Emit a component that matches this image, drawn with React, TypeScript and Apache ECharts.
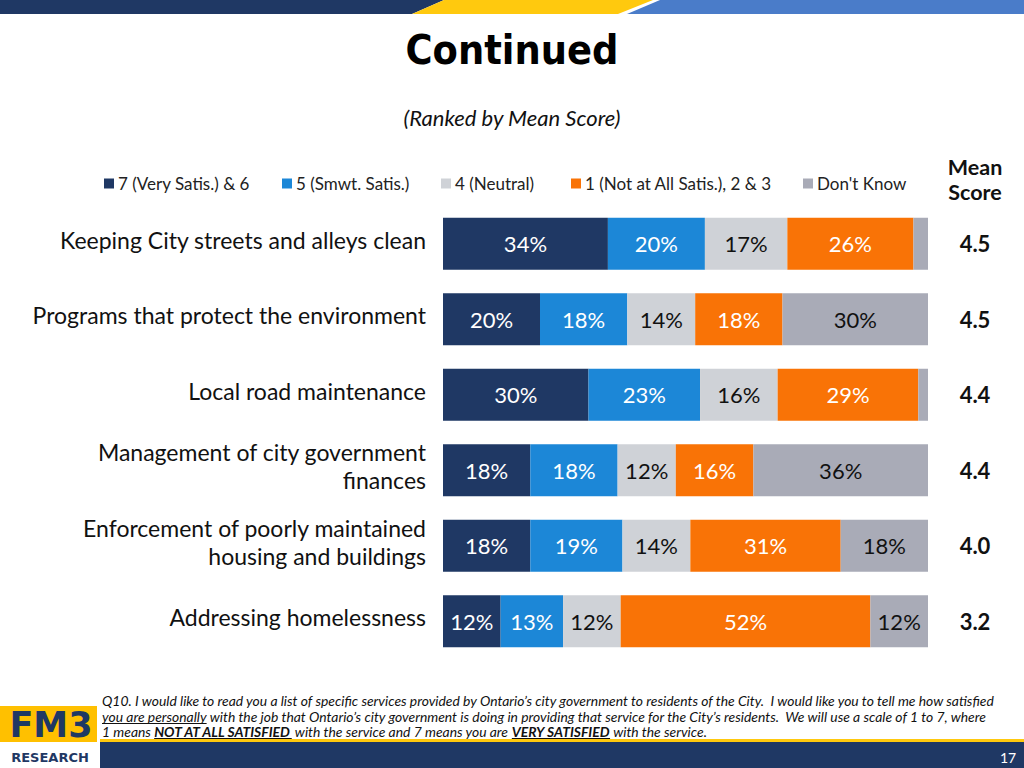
import React, { useEffect, useRef } from "react";
import * as echarts from "echarts";

const categories = [
  "Keeping City streets and alleys clean",
  "Programs that protect the environment",
  "Local road maintenance",
  "Management of city government\nfinances",
  "Enforcement of poorly maintained\nhousing and buildings",
  "Addressing homelessness",
];
const meanScores = ["4.5", "4.5", "4.4", "4.4", "4.0", "3.2"];
const seriesNames = [
  "7 (Very Satis.) & 6",
  "5 (Smwt. Satis.)",
  "4 (Neutral)",
  "1 (Not at All Satis.), 2 & 3",
  "Don't Know",
];
const verySatis = [34, 20, 30, 18, 18, 12];
const smwtSatis = [20, 18, 23, 18, 19, 13];
const neutral = [17, 14, 16, 12, 14, 12];
const notSatis = [26, 18, 29, 16, 31, 52];
const dontKnow = [3, 30, 2, 36, 18, 12];

const seriesValues = [verySatis, smwtSatis, neutral, notSatis, dontKnow];
const colors = ["#1F3864", "#1C87D7", "#CFD2D7", "#F97306", "#A9ABB7"];
const labelColors = ["#FFFFFF", "#FFFFFF", "#111111", "#FFFFFF", "#111111"];
const legendLefts = [104, 282, 441, 571, 803];

const FONT = "Lato, 'Open Sans', sans-serif";

const footLine1 =
  "Q10. I would like to read you a list of specific services provided by Ontario\u2019s city government to residents of the City.  I would like you to tell me how satisfied";
const footLine2a = "you are personally";
const footLine2b =
  " with the job that Ontario\u2019s city government is doing in providing that service for the City\u2019s residents.  We will use a scale of 1 to 7, where";
const footLine3a = "1 means ";
const footLine3b = "NOT AT ALL SATISFIED";
const footLine3c = " with the service and 7 means you are ";
const footLine3d = "VERY SATISFIED";
const footLine3e = " with the service.";

function measure(text: string, font: string): number {
  const c = document.createElement("canvas");
  const ctx = c.getContext("2d");
  if (!ctx) return text.length * 6;
  ctx.font = font;
  return ctx.measureText(text).width;
}

export default function App() {
  const ref = useRef<HTMLDivElement>(null);

  useEffect(() => {
    if (!ref.current) return;
    const chart = echarts.init(ref.current, undefined, { renderer: "svg" });

    const rowSums = categories.map((_, i) =>
      seriesValues.reduce((s, arr) => s + arr[i], 0)
    );

    const series = seriesValues.map((arr, si) => ({
      name: seriesNames[si],
      type: "bar",
      stack: "total",
      barWidth: 52,
      xAxisIndex: 0,
      yAxisIndex: 0,
      itemStyle: { color: colors[si] },
      label: {
        show: true,
        position: "inside",
        color: labelColors[si],
        fontFamily: FONT,
        fontSize: 22,
        formatter: (p: any) => (arr[p.dataIndex] >= 5 ? arr[p.dataIndex] + "%" : ""),
      },
      data: arr.map((v, i) => (v / rowSums[i]) * 100),
    }));

    const legends = seriesNames.map((n, i) => ({
      data: [n],
      left: legendLefts[i],
      top: 175,
      padding: 0,
      icon: "rect",
      itemWidth: 10,
      itemHeight: 10,
      itemGap: 4,
      selectedMode: false,
      textStyle: { fontFamily: FONT, fontSize: 17, color: "#222", padding: [0, 0, 0, -1] },
    }));

    const FS = 13.9;
    const footFont = `italic ${FS}px Lato`;
    const footFontBold = `italic bold ${FS}px Lato`;
    const fx = 102;
    const u2w = measure(footLine2a, footFont);
    const p3a = measure(footLine3a, footFont);
    const w3b = measure(footLine3b, footFontBold);
    const p3c = measure(footLine3c, footFont);
    const w3d = measure(footLine3d, footFontBold);

    const footStyle = { fontFamily: FONT, fontStyle: "italic", fontSize: FS, fill: "#111" };

    const graphic: any[] = [
      // top banner
      { type: "polygon", shape: { points: [[0, 0], [444, 0], [412, 14], [0, 14]] }, style: { fill: "#1F3864" } },
      { type: "polygon", shape: { points: [[444, 0], [653, 0], [618, 14], [412, 14]] }, style: { fill: "#FFC90E" } },
      { type: "polygon", shape: { points: [[660, 0], [1024, 0], [1024, 14], [627, 14]] }, style: { fill: "#4A7CC9" } },
      // title
      {
        type: "text",
        x: 512,
        y: 50,
        style: {
          text: "Continued",
          fontFamily: "'DejaVu Sans Condensed', 'DejaVu Sans', sans-serif",
          fontWeight: "bold",
          fontSize: 41,
          fill: "#000",
          align: "center",
          verticalAlign: "middle",
        },
      },
      {
        type: "text",
        x: 512,
        y: 117,
        style: {
          text: "(Ranked by Mean Score)",
          fontFamily: FONT,
          fontStyle: "italic",
          fontSize: 22,
          fill: "#111",
          align: "center",
          verticalAlign: "middle",
        },
      },
      {
        type: "text",
        x: 975,
        y: 167,
        style: {
          text: "Mean",
          fontFamily: FONT,
          fontWeight: "bold",
          fontSize: 21.5,
          fill: "#111",
          align: "center",
          verticalAlign: "middle",
        },
      },
      {
        type: "text",
        x: 975,
        y: 192,
        style: {
          text: "Score",
          fontFamily: FONT,
          fontWeight: "bold",
          fontSize: 21.5,
          fill: "#111",
          align: "center",
          verticalAlign: "middle",
        },
      },
      // footnote
      { type: "text", x: fx, y: 700, style: { ...footStyle, text: footLine1, verticalAlign: "middle" } },
      { type: "text", x: fx, y: 716, style: { ...footStyle, text: footLine2a, verticalAlign: "middle" } },
      { type: "text", x: fx + u2w, y: 716, style: { ...footStyle, text: footLine2b, verticalAlign: "middle" } },
      { type: "line", shape: { x1: fx, y1: 723.5, x2: fx + u2w, y2: 723.5 }, style: { stroke: "#111", lineWidth: 1 } },
      { type: "text", x: fx, y: 731, style: { ...footStyle, text: footLine3a, verticalAlign: "middle" } },
      { type: "text", x: fx + p3a, y: 731, style: { ...footStyle, fontWeight: "bold", text: footLine3b, verticalAlign: "middle" } },
      { type: "line", shape: { x1: fx + p3a, y1: 738.5, x2: fx + p3a + w3b, y2: 738.5 }, style: { stroke: "#111", lineWidth: 1.2 } },
      { type: "text", x: fx + p3a + w3b, y: 731, style: { ...footStyle, text: footLine3c, verticalAlign: "middle" } },
      { type: "text", x: fx + p3a + w3b + p3c, y: 731, style: { ...footStyle, fontWeight: "bold", text: footLine3d, verticalAlign: "middle" } },
      { type: "line", shape: { x1: fx + p3a + w3b + p3c, y1: 738.5, x2: fx + p3a + w3b + p3c + w3d, y2: 738.5 }, style: { stroke: "#111", lineWidth: 1.2 } },
      { type: "text", x: fx + p3a + w3b + p3c + w3d, y: 731, style: { ...footStyle, text: footLine3e, verticalAlign: "middle" } },
      // footer bars
      { type: "rect", shape: { x: 100, y: 739, width: 924, height: 3 }, style: { fill: "#FFC90E" } },
      { type: "rect", shape: { x: 100, y: 742, width: 924, height: 26 }, style: { fill: "#1F3864" } },
      {
        type: "text",
        x: 1008,
        y: 757,
        style: { text: "17", fontFamily: FONT, fontSize: 14, fill: "#FFFFFF", align: "center", verticalAlign: "middle" },
      },
      // logo
      { type: "rect", shape: { x: 0, y: 706, width: 97, height: 36 }, style: { fill: "#FFC000" } },
      {
        type: "text",
        x: 51,
        y: 725,
        style: {
          text: "FM3",
          fontFamily: "'DejaVu Sans', sans-serif",
          fontWeight: "bold",
          fontSize: 35,
          fill: "#1F3864",
          align: "center",
          verticalAlign: "middle",
          letterSpacing: 5,
        } as any,
      },
      {
        type: "text",
        x: 50,
        y: 757,
        style: {
          text: "RESEARCH",
          fontFamily: "'DejaVu Sans', sans-serif",
          fontWeight: "bold",
          fontSize: 13,
          fill: "#1F3864",
          align: "center",
          verticalAlign: "middle",
          letterSpacing: 3.5,
        } as any,
      },
    ];

    chart.setOption({
      animation: false,
      backgroundColor: "#FFFFFF",
      legend: legends,
      grid: [
        { left: 443, right: 96, top: 206, bottom: 109, containLabel: false },
        { left: 443, right: 96, top: 202, bottom: 113, containLabel: false },
      ],
      xAxis: [
        { type: "value", min: 0, max: 100, show: false, gridIndex: 0 },
        { type: "value", min: 0, max: 100, show: false, gridIndex: 1 },
      ],
      yAxis: [
        {
          type: "category",
          gridIndex: 0,
          data: categories,
          inverse: true,
          axisLine: { show: false },
          axisTick: { show: false },
          axisLabel: { show: false },
        },
        {
          type: "category",
          gridIndex: 0,
          data: meanScores,
          inverse: true,
          position: "right",
          axisLine: { show: false },
          axisTick: { show: false },
          axisLabel: {
            fontFamily: FONT,
            fontWeight: "bold",
            fontSize: 22,
            color: "#111",
            margin: 47,
            align: "center",
          },
        },
        {
          type: "category",
          gridIndex: 1,
          data: categories,
          inverse: true,
          position: "left",
          axisLine: { show: false },
          axisTick: { show: false },
          axisLabel: {
            fontFamily: FONT,
            fontSize: 23,
            lineHeight: 28,
            color: "#111",
            margin: 17,
            align: "right",
          },
        },
      ],
      series,
      graphic,
    });

    return () => chart.dispose();
  }, []);

  return (
    <div
      ref={ref}
      style={{ position: "absolute", left: 0, top: 0, width: 1024, height: 768 }}
    />
  );
}
